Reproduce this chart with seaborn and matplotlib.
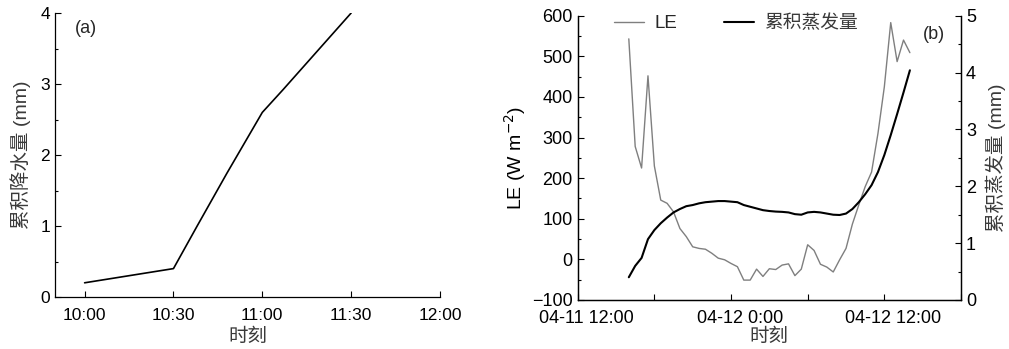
import numpy as np
import pandas as pd
import matplotlib
matplotlib.use("Agg")
import matplotlib.pyplot as plt
import matplotlib.dates as mdates
import matplotlib.ticker as mticker
import matplotlib.transforms as mtransforms
import seaborn as sns

# ---------------- data ----------------
# panel (a): cumulative precipitation
a_times = ["10:00", "10:30", "10:38", "10:48", "11:00", "11:07", "11:30"]
a_precip = [0.2, 0.4, 1.0, 1.74, 2.6, 2.92, 4.0]
a_tick_labels = ["10:00", "10:30", "11:00", "11:30", "12:00"]

# panel (b): LE (W m-2) and cumulative evaporation (mm), half-hourly 04-11 16:00 .. 04-12 14:00
b_start = "2024-04-11 16:00"
b_end = "2024-04-12 14:00"
b_le = [543, 278, 225, 452, 230, 146, 138, 117, 76, 56, 31, 27, 25, 15, 3, -1,
        -10, -18, -51, -51, -24, -42, -23, -25, -14, -11, -40, -24, 36, 22, -12, -19,
        -31, -1, 27, 87, 134, 179, 215, 310, 425, 583, 487, 540, 509]
b_evap = [0.40, 0.60, 0.74, 1.07, 1.23, 1.35, 1.45, 1.54, 1.60, 1.65, 1.67, 1.70,
          1.72, 1.73, 1.74, 1.74, 1.73, 1.72, 1.67, 1.64, 1.61, 1.58, 1.565, 1.555,
          1.55, 1.54, 1.51, 1.50, 1.54, 1.55, 1.54, 1.52, 1.50, 1.495, 1.52, 1.60,
          1.72, 1.86, 2.02, 2.25, 2.55, 2.90, 3.27, 3.65, 4.04]
b_tick_times = ["2024-04-11 12:00", "2024-04-11 18:00", "2024-04-12 00:00",
                "2024-04-12 06:00", "2024-04-12 12:00", "2024-04-12 18:00"]
b_tick_labels = ["04-11 12:00", "", "04-12 0:00", "", "04-12 12:00", ""]
legend_labels = ["LE", "累积蒸发量"]

# ---------------- style ----------------
sns.set_theme(style="ticks")
plt.rcParams['font.family'] = ['Liberation Sans', 'Noto Sans CJK SC', 'DejaVu Sans']
plt.rcParams['axes.unicode_minus'] = True
CJK_COLOR = "#3a3a3a"
TICK_FS = 12.5
TICK_FS_B = 13
LABEL_FS = 14

fig = plt.figure(figsize=(10.09, 3.49), dpi=100)

# ---------------- panel (a) ----------------
ax1 = fig.add_axes([55 / 1009, 52 / 349, 385 / 1009, 284 / 349])
df_a = pd.DataFrame({
    "t": [int(s[:2]) + int(s[3:]) / 60 for s in a_times],
    "p": a_precip,
})
sns.lineplot(data=df_a, x="t", y="p", ax=ax1, color="black", lw=1.2)
ax1.set_xlim(10 - 10 / 60, 12.0)
ax1.set_ylim(0, 4)
tick_pos_a = [int(s[:2]) + int(s[3:]) / 60 for s in a_tick_labels]
ax1.xaxis.set_major_locator(mticker.FixedLocator(tick_pos_a))
ax1.set_xticklabels(a_tick_labels)
ax1.yaxis.set_major_locator(mticker.MultipleLocator(1))
ax1.yaxis.set_minor_locator(mticker.MultipleLocator(0.5))
ax1.tick_params(axis="both", which="both", direction="in", labelsize=TICK_FS,
                width=0.8, colors="black")
ax1.tick_params(which="major", length=4)
ax1.tick_params(which="minor", length=2.5)
ax1.tick_params(axis="x", pad=8)
for s in ["top", "right"]:
    ax1.spines[s].set_visible(False)
for s in ["left", "bottom"]:
    ax1.spines[s].set_color("black")
    ax1.spines[s].set_linewidth(0.9)
ax1.set_xlabel("时刻", fontsize=LABEL_FS, color=CJK_COLOR, labelpad=4)
ax1.set_ylabel("累积降水量 (mm)", fontsize=LABEL_FS, color=CJK_COLOR, labelpad=7)
ax1.text(0.052, 0.975, "(a)", transform=ax1.transAxes, fontsize=13,
         ha="left", va="top")

# ---------------- panel (b) ----------------
ax2 = fig.add_axes([577.7 / 1009, 49 / 349, 383.3 / 1009, 284.3 / 349])
times_b = pd.date_range(b_start, b_end, freq="30min")
df_b = pd.DataFrame({"time": times_b, "LE": b_le, "evap": b_evap})
sns.lineplot(data=df_b, x="time", y="LE", ax=ax2, color="#7f7f7f", lw=1.0,
             label=legend_labels[0], legend=False)
ax3 = ax2.twinx()
sns.lineplot(data=df_b, x="time", y="evap", ax=ax3, color="black", lw=1.5,
             label=legend_labels[1], legend=False)

ax2.set_xlim(pd.Timestamp(b_tick_times[0]), pd.Timestamp(b_tick_times[-1]))
ax2.set_ylim(-100, 600)
ax3.set_ylim(0, 5)
ax2.xaxis.set_major_locator(mticker.FixedLocator(
    [mdates.date2num(pd.Timestamp(t)) for t in b_tick_times]))
ax2.xaxis.set_major_formatter(mticker.FixedFormatter(b_tick_labels))
ax2.yaxis.set_major_locator(mticker.MultipleLocator(100))
ax2.yaxis.set_minor_locator(mticker.MultipleLocator(50))
ax3.yaxis.set_major_locator(mticker.MultipleLocator(1))
ax3.yaxis.set_minor_locator(mticker.MultipleLocator(0.5))
for ax in (ax2, ax3):
    ax.tick_params(axis="both", which="both", direction="in", labelsize=TICK_FS_B,
                   width=0.8, colors="black")
    ax.tick_params(which="major", length=4)
    ax.tick_params(which="minor", length=2.5)
    for s in ["left", "bottom", "right"]:
        ax.spines[s].set_color("black")
        ax.spines[s].set_linewidth(0.9)
    ax.spines["top"].set_visible(False)
ax2.tick_params(axis="x", pad=7)
shift = mtransforms.ScaledTranslation(9 / 100, 0, fig.dpi_scale_trans)
for lab in ax2.get_xticklabels():
    lab.set_transform(lab.get_transform() + shift)

ax2.set_xlabel("时刻", fontsize=LABEL_FS, color=CJK_COLOR, labelpad=1.5)
ax2.set_ylabel("LE (W m$^{-2}$)", fontsize=LABEL_FS, color="black", labelpad=3)
ax3.set_ylabel("累积蒸发量 (mm)", fontsize=LABEL_FS, color=CJK_COLOR, labelpad=7)
ax2.text(0.9, 0.965, "(b)", transform=ax2.transAxes, fontsize=13,
         ha="left", va="top")

h1, l1 = ax2.get_legend_handles_labels()
h2, l2 = ax3.get_legend_handles_labels()
leg = ax2.legend(h1 + h2, l1 + l2, ncol=2, loc="upper left",
                 bbox_to_anchor=(0.06, 1.05), frameon=False, fontsize=13.5,
                 handlelength=1.6, handletextpad=0.55, columnspacing=2.5,
                 borderpad=0.2)
for t in leg.get_texts():
    if t.get_text() != "LE":
        t.set_color(CJK_COLOR)

fig.savefig("out.png", dpi=100)
